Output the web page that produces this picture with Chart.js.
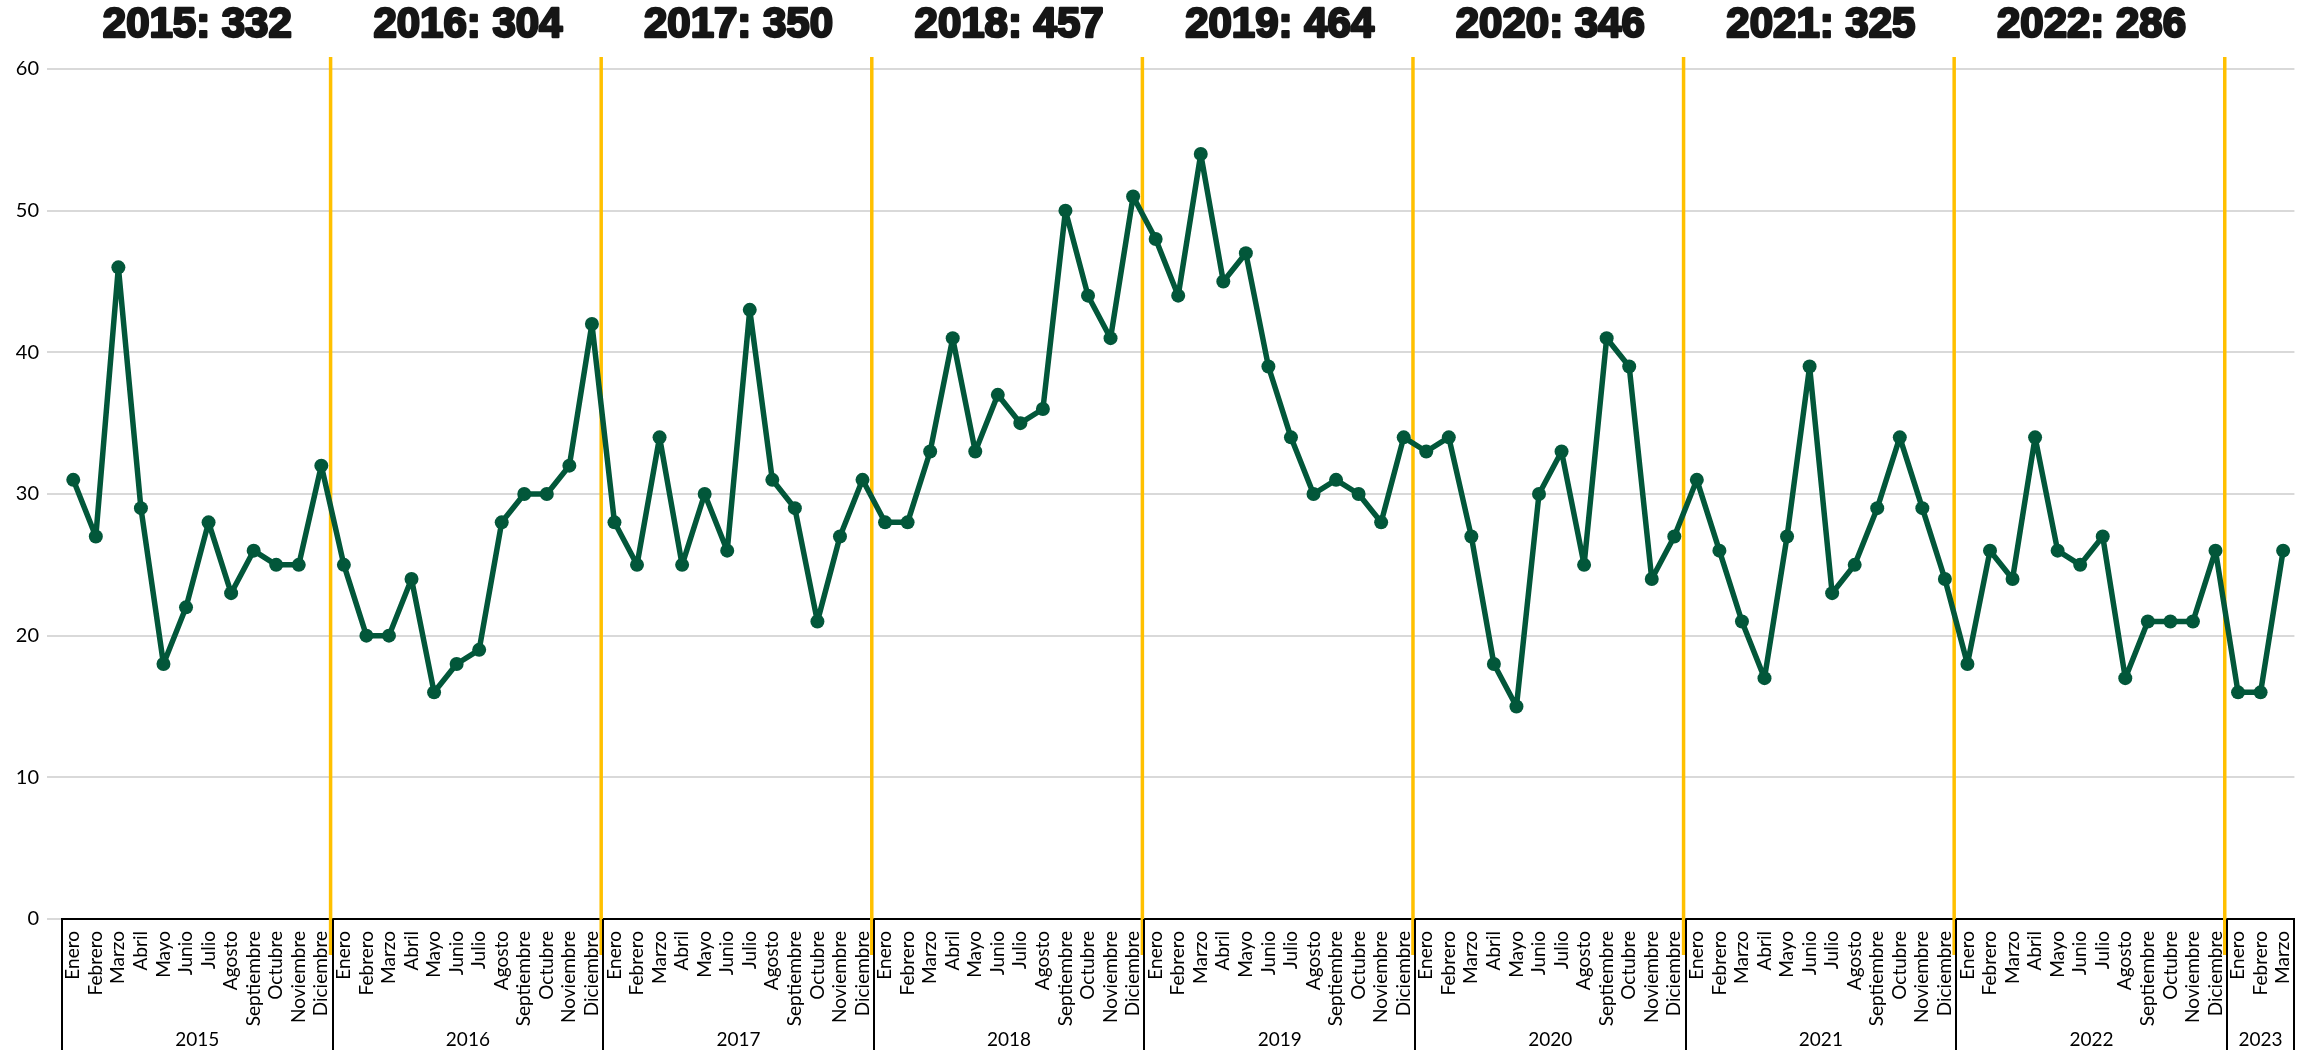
<!DOCTYPE html>
<html>
<head>
<meta charset="utf-8">
<script src="https://cdn.jsdelivr.net/npm/chart.js@4.4.0/dist/chart.umd.min.js"></script>
<style>
  html, body { margin: 0; padding: 0; background: #fff; }
  #wrap { width: 2318px; height: 1050px; position: relative; }
</style>
</head>
<body>
<div id="wrap"><canvas id="chart"></canvas></div>
<script>
// Meses y años del eje
var months = ['Enero', 'Febrero', 'Marzo', 'Abril', 'Mayo', 'Junio', 'Julio', 'Agosto', 'Septiembre', 'Octubre', 'Noviembre', 'Diciembre'];
var years = ['2015', '2016', '2017', '2018', '2019', '2020', '2021', '2022', '2023'];
var yearTitles = ['2015: 332', '2016: 304', '2017: 350', '2018: 457', '2019: 464', '2020: 346', '2021: 325', '2022: 286'];

// Valores mensuales
var v2015 = [31, 27, 46, 29, 18, 22, 28, 23, 26, 25, 25, 32];
var v2016 = [25, 20, 20, 24, 16, 18, 19, 28, 30, 30, 32, 42];
var v2017 = [28, 25, 34, 25, 30, 26, 43, 31, 29, 21, 27, 31];
var v2018 = [28, 28, 33, 41, 33, 37, 35, 36, 50, 44, 41, 51];
var v2019 = [48, 44, 54, 45, 47, 39, 34, 30, 31, 30, 28, 34];
var v2020 = [33, 34, 27, 18, 15, 30, 33, 25, 41, 39, 24, 27];
var v2021 = [31, 26, 21, 17, 27, 39, 23, 25, 29, 34, 29, 24];
var v2022 = [18, 26, 24, 34, 26, 25, 27, 17, 21, 21, 21, 26];
var v2023 = [16, 16, 26];

var yearValues = [v2015, v2016, v2017, v2018, v2019, v2020, v2021, v2022, v2023];

var labels = [];
var data = [];
var groupStarts = [];
yearValues.forEach(function(arr) {
    groupStarts.push(labels.length);
    arr.forEach(function(v, i) {
        labels.push(months[i]);
        data.push(v);
    });
});

var GREEN = '#02573a';
var YELLOW = '#ffc000';
var TICK_FONT = 'Lato, "Noto Sans", sans-serif';

function boundaryX(xs, idx) {
    // Grenze zwischen Kategorie idx-1 und idx
    if (idx <= 0) return xs.left;
    if (idx >= labels.length) return xs.right;
    return (xs.getPixelForValue(idx - 1) + xs.getPixelForValue(idx)) / 2;
}

var overlay = {
    id: 'overlay',
    beforeDatasetsDraw: function(chart) {
        var ctx = chart.ctx;
        var xs = chart.scales.x;
        ctx.save();
        ctx.strokeStyle = YELLOW;
        ctx.lineWidth = 3.5;
        for (var k = 1; k < groupStarts.length; k++) {
            var x = boundaryX(xs, groupStarts[k]) - 2;
            ctx.beginPath();
            ctx.moveTo(x, 57);
            ctx.lineTo(x, 955);
            ctx.stroke();
        }
        ctx.restore();
    },
    afterDraw: function(chart) {
        var ctx = chart.ctx;
        var xs = chart.scales.x;
        var area = chart.chartArea;
        ctx.save();

        // Kasten der Jahresgruppen
        ctx.strokeStyle = '#000';
        ctx.lineWidth = 2;
        var edges = groupStarts.concat([labels.length]);
        edges.forEach(function(idx) {
            var x = Math.round(boundaryX(xs, idx));
            ctx.beginPath();
            ctx.moveTo(x, area.bottom);
            ctx.lineTo(x, 1050);
            ctx.stroke();
        });

        // Jahreszahlen
        ctx.fillStyle = '#000';
        ctx.font = '19px ' + TICK_FONT;
        ctx.textAlign = 'center';
        ctx.textBaseline = 'middle';
        for (var g = 0; g < years.length; g++) {
            var a = boundaryX(xs, edges[g]);
            var b = boundaryX(xs, edges[g + 1]);
            ctx.fillText(years[g], (a + b) / 2, 1040);
        }

        // Titel oben
        ctx.fillStyle = '#161616';
        ctx.strokeStyle = '#161616';
        ctx.lineWidth = 2.5;
        ctx.lineJoin = 'round';
        ctx.font = 'bold 42px "Liberation Sans Narrow", "Liberation Sans", sans-serif';
        ctx.textBaseline = 'middle';
        yearTitles.forEach(function(t, g) {
            var a = boundaryX(xs, edges[g]);
            var b = boundaryX(xs, edges[g + 1]);
            var cx = (a + b) / 2;
            var w = ctx.measureText(t).width;
            var sx = 189 / w;
            ctx.save();
            ctx.translate(cx, 25);
            ctx.scale(sx, 1);
            ctx.fillText(t, 0, 0);
            ctx.strokeText(t, 0, 0);
            ctx.restore();
        });
        ctx.restore();
    }
};

var ctx = document.getElementById('chart').getContext('2d');
new Chart(ctx, {
    type: 'line',
    data: {
        labels: labels,
        datasets: [{
            data: data,
            borderColor: GREEN,
            backgroundColor: GREEN,
            borderWidth: 5.5,
            borderJoinStyle: 'round',
            borderCapStyle: 'round',
            pointRadius: 7,
            pointBorderWidth: 0,
            pointBackgroundColor: GREEN,
            tension: 0
        }]
    },
    options: {
        responsive: true,
        maintainAspectRatio: false,
        animation: false,
        layout: { padding: { top: 69, right: 12, bottom: 0, left: 0 } },
        plugins: {
            legend: { display: false },
            tooltip: { enabled: false }
        },
        scales: {
            x: {
                type: 'category',
                offset: true,
                grid: { display: false, drawTicks: false },
                border: { display: true, color: '#000', width: 2 },
                ticks: {
                    autoSkip: false,
                    minRotation: 90,
                    maxRotation: 90,
                    padding: 12,
                    color: '#000',
                    font: { family: TICK_FONT, size: 19 }
                },
                afterFit: function(scale) { scale.height = 131; }
            },
            y: {
                min: 0,
                max: 60,
                ticks: {
                    stepSize: 10,
                    padding: 8,
                    color: '#000',
                    font: { family: TICK_FONT, size: 20 }
                },
                grid: { color: '#d9d9d9', lineWidth: 2, tickLength: 15 },
                border: { display: false },
                afterFit: function(scale) { scale.width = 62; }
            }
        }
    },
    plugins: [overlay]
});
</script>
</body>
</html>
